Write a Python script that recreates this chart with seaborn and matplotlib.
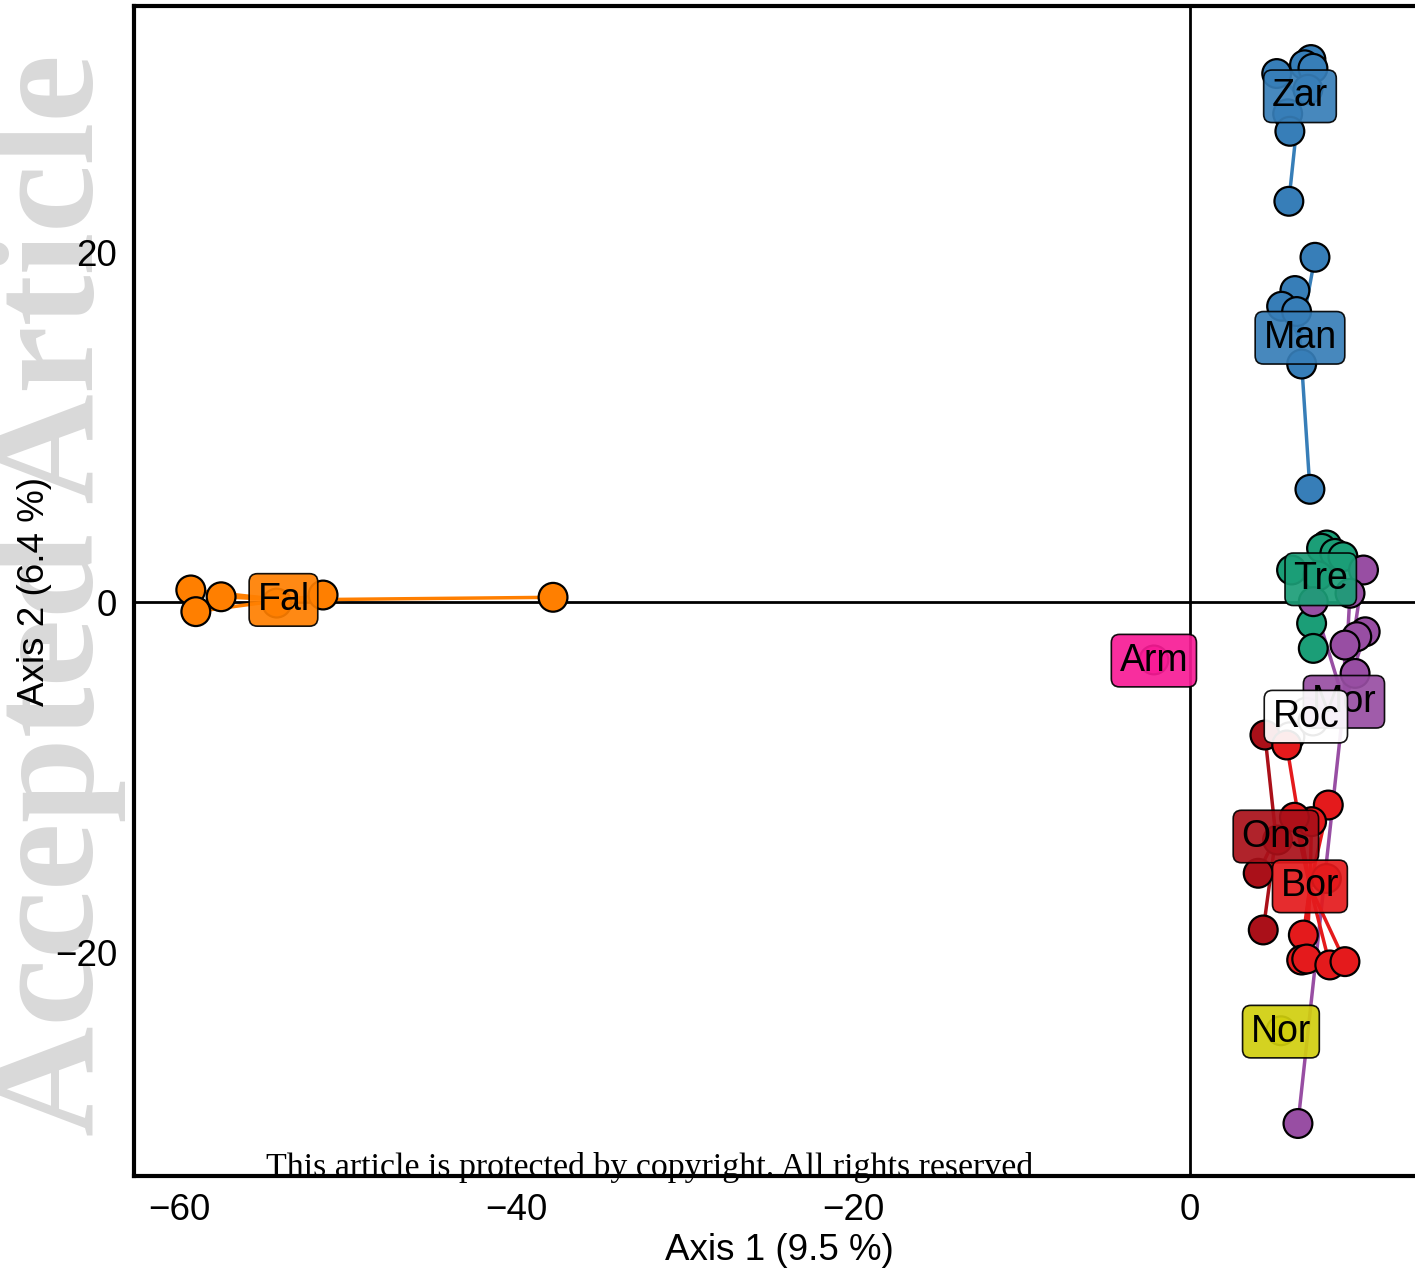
import matplotlib
matplotlib.use("Agg")
import matplotlib.pyplot as plt
import seaborn as sns
import pandas as pd

# group order, colours and centroids (label positions)
groups = ["Zar", "Man", "Tre", "Mor", "Roc", "Ons", "Bor", "Nor", "Arm", "Fal"]
colors = ["#377EB8", "#377EB8", "#1B9E77", "#984EA3", "#FFFFFF",
          "#AA1019", "#E41A1C", "#D1CF0E", "#F81C96", "#FF7F00"]
cent_x = [6.53, 6.53, 7.76, 9.14, 6.88, 5.10, 7.12, 5.40, -2.14, -53.8]
cent_y = [28.9, 15.1, 1.3, -5.7, -6.55, -13.4, -16.25, -24.55, -3.35, 0.12]

# individual coordinates per group
zar_x = [7.18, 5.15, 6.8, 7.3, 7.0, 5.8, 5.93, 5.87]
zar_y = [31.0, 30.2, 30.7, 30.5, 29.3, 27.9, 26.9, 22.9]
man_x = [7.42, 6.23, 5.44, 6.33, 6.63, 7.12]
man_y = [19.7, 17.8, 16.9, 16.6, 13.6, 6.44]
tre_x = [8.11, 7.81, 8.6, 9.08, 6.03, 7.22, 7.32, 7.6]
tre_y = [3.26, 3.07, 2.78, 2.59, 1.83, -1.22, -2.65, 1.5]
mor_x = [10.3, 9.5, 7.32, 10.4, 9.9, 9.2, 9.8, 6.41]
mor_y = [1.83, 0.5, 0.02, -1.7, -1.98, -2.46, -4.08, -29.8]
roc_x = [5.93, 6.9, 7.3]
roc_y = [-7.7, -6.3, -6.8]
ons_x = [4.45, 4.05, 4.35, 5.2]
ons_y = [-7.6, -15.5, -18.74, -13.6]
bor_x = [5.74, 8.21, 7.22, 6.2, 6.73, 6.63, 6.93, 8.3, 9.2, 8.1]
bor_y = [-8.17, -11.6, -12.55, -12.3, -19.03, -20.46, -20.4, -20.74, -20.55, -15.8]
nor_x = [5.4]
nor_y = [-24.5]
arm_x = [-2.14]
arm_y = [-3.31]
fal_x = [-59.3, -59.0, -57.5, -51.45, -37.8, -54.2]
fal_y = [0.69, -0.55, 0.3, 0.4, 0.27, -0.06]

pts_x = [zar_x, man_x, tre_x, mor_x, roc_x, ons_x, bor_x, nor_x, arm_x, fal_x]
pts_y = [zar_y, man_y, tre_y, mor_y, roc_y, ons_y, bor_y, nor_y, arm_y, fal_y]

rows = []
for g, xs, ys in zip(groups, pts_x, pts_y):
    for x, y in zip(xs, ys):
        rows.append({"pop": g, "Axis1": x, "Axis2": y})
df = pd.DataFrame(rows)
palette = dict(zip(groups, colors))

sns.set_theme(style="white")
plt.rcParams["font.family"] = ["Liberation Sans", "DejaVu Sans"]
plt.rcParams.update({
    "text.color": "black",
    "axes.labelcolor": "black",
    "xtick.color": "#333333",
    "ytick.color": "#333333",
    "xtick.labelcolor": "black",
    "ytick.labelcolor": "black",
})

fig = plt.figure(figsize=(14.15, 12.69), dpi=100)
ax = fig.add_axes([134 / 1415, 93 / 1269, 1291 / 1415, 1170 / 1269])
ax.set_zorder(1)

ax.axhline(0, color="black", lw=2, zorder=1)
ax.axvline(0, color="black", lw=2, zorder=1)

# star lines from centroid to each individual
for g, cx, cy, xs, ys in zip(groups, cent_x, cent_y, pts_x, pts_y):
    for x, y in zip(xs, ys):
        ax.plot([cx, x], [cy, y], color=palette[g], lw=2.5, zorder=2)

sns.scatterplot(data=df, x="Axis1", y="Axis2", hue="pop", palette=palette,
                s=430, edgecolor="black", linewidth=1.6, legend=False,
                ax=ax, zorder=3)

for g, cx, cy in zip(groups, cent_x, cent_y):
    ax.text(cx, cy, g, fontsize=27, ha="center", va="center", zorder=4,
            color="black",
            bbox=dict(boxstyle="round,pad=0.22,rounding_size=0.22",
                      facecolor=palette[g], edgecolor="black", lw=1.2,
                      alpha=0.92))

ax.set_xlim(-62.67, 13.95)
ax.set_ylim(-32.8, 34.06)
ax.set_xticks([-60, -40, -20, 0])
ax.set_yticks([-20, 0, 20])
ax.set_xticklabels(["\u221260", "\u221240", "\u221220", "0"])
ax.set_yticklabels(["\u221220", "0", "20"])
ax.tick_params(axis="both", direction="out", length=7, width=2,
               labelsize=26.5, pad=5)
ax.set_xlabel("Axis 1 (9.5 %)", fontsize=26.5, labelpad=4)
ax.set_ylabel("Axis 2 (6.4 %)", fontsize=26.5, labelpad=2)
for side in ["left", "bottom", "top"]:
    ax.spines[side].set_linewidth(3)
    ax.spines[side].set_color("black")
ax.spines["right"].set_visible(False)

# journal watermark and footer
fig.text(57 / 1415, 0.531, "Accepted Article", rotation=90, ha="center",
         va="center", fontsize=110, family="Liberation Serif",
         fontweight="bold", color="#D9D9D9", zorder=0)
fig.text(650 / 1415, 93 / 1269, "This article is protected by copyright. All rights reserved",
         ha="center", va="baseline", fontsize=24.4, family="Liberation Serif",
         color="black", zorder=5)

fig.savefig("out.png", dpi=100)
